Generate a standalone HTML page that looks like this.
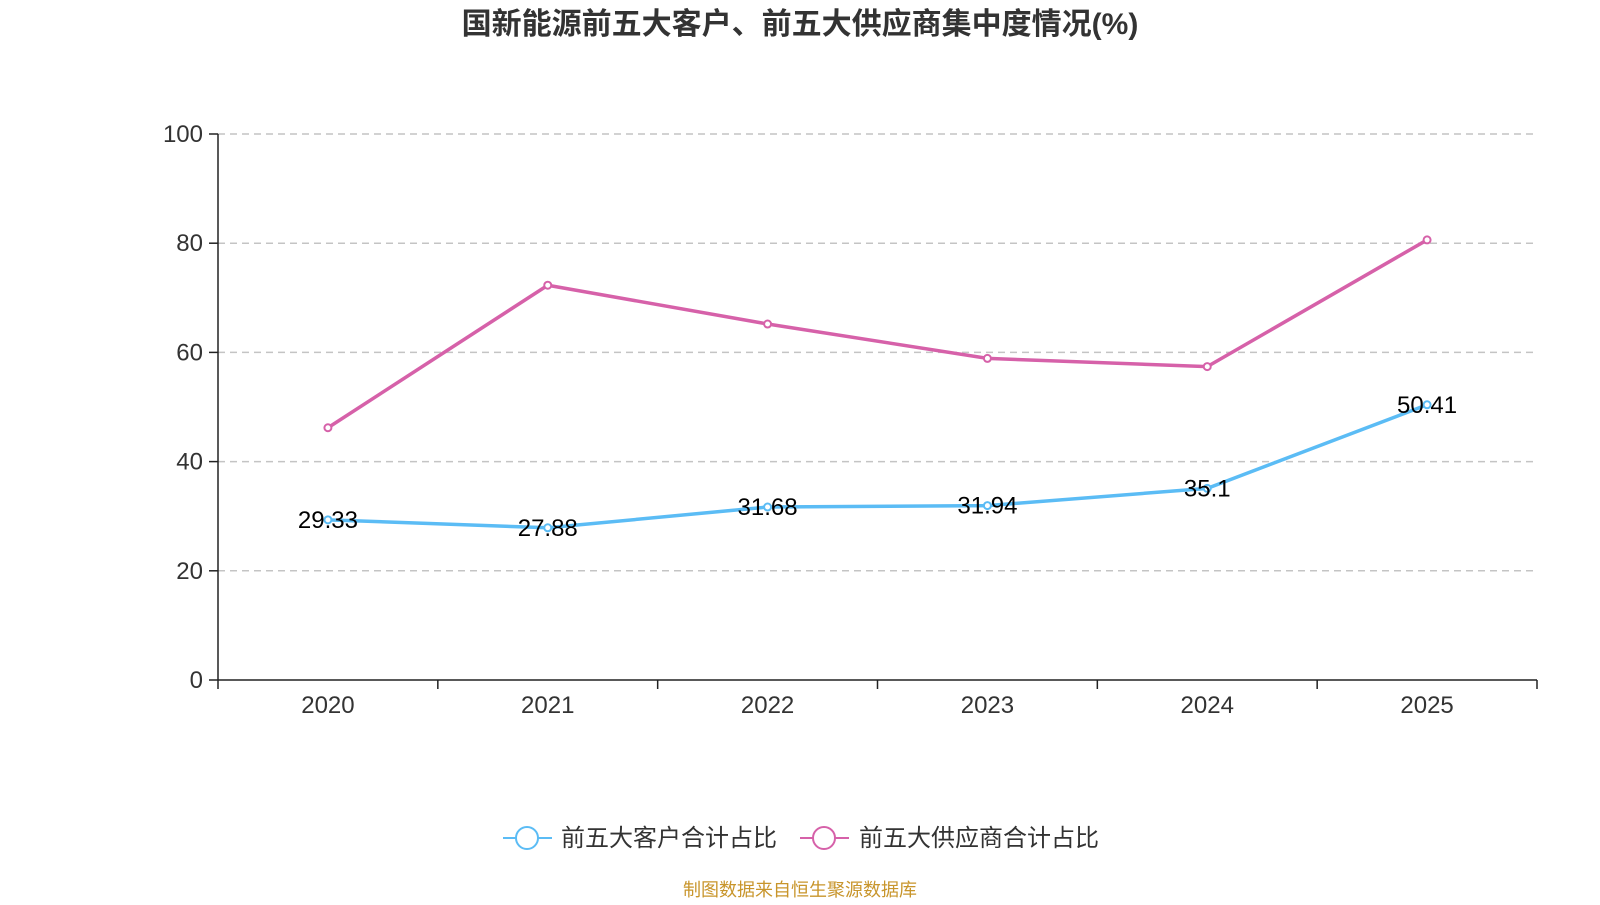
<!DOCTYPE html>
<html><head><meta charset="utf-8"><style>
body{margin:0;background:#fff;width:1600px;height:900px;overflow:hidden;font-family:"Liberation Sans","Noto Sans CJK SC",sans-serif}
</style></head><body>
<svg width="1600" height="900">
<text x="800" y="34" text-anchor="middle" font-size="30" font-weight="bold" fill="#333">国新能源前五大客户、前五大供应商集中度情况(%)</text>
<g id="grid"></g><g id="axes"></g><g id="series"></g>
<g>
<line x1="503" y1="838" x2="552" y2="838" stroke="#5bbcf5" stroke-width="2"/>
<circle cx="527" cy="838" r="11" fill="#fff" stroke="#5bbcf5" stroke-width="2"/>
<text x="561" y="846" font-size="24" fill="#333">前五大客户合计占比</text>
<line x1="800" y1="838" x2="849" y2="838" stroke="#d661a9" stroke-width="2"/>
<circle cx="824" cy="838" r="11" fill="#fff" stroke="#d661a9" stroke-width="2"/>
<text x="859" y="846" font-size="24" fill="#333">前五大供应商合计占比</text>
</g>
<text x="800" y="896" text-anchor="middle" font-size="18" fill="#c8952b">制图数据来自恒生聚源数据库</text>
</svg>
<script>
const years=["2020","2021","2022","2023","2024","2025"];
const customers=[29.33,27.88,31.68,31.94,35.1,50.41];
const suppliers=[46.2,72.3,65.2,58.9,57.4,80.6];
const yTicks=[0,20,40,60,80,100];
const NS="http://www.w3.org/2000/svg";
const X0=218,X1=1537,Y0=680,Y1=134;
const bw=(X1-X0)/years.length;
const xs=i=>X0+bw*(i+0.5);
const ys=v=>Y0-(v/100)*(Y0-Y1);
function mk(t,a,p){const e=document.createElementNS(NS,t);for(const k in a)e.setAttribute(k,a[k]);p.appendChild(e);return e;}
const grid=document.getElementById('grid'),axes=document.getElementById('axes'),ser=document.getElementById('series');
yTicks.forEach(v=>{
 if(v>0){const l=mk('line',{x1:X0,x2:X1,y1:ys(v),y2:ys(v),stroke:'#c4c4c4','stroke-width':1.5,'stroke-dasharray':'7,5'},grid);
 
 }
 mk('line',{x1:X0-9,x2:X0,y1:ys(v),y2:ys(v),stroke:'#222','stroke-width':1.5},axes);
 const t=mk('text',{x:X0-15,y:ys(v)+8,'text-anchor':'end','font-size':24,fill:'#333'},axes);t.textContent=v;
 
 
});
mk('line',{x1:X0,x2:X0,y1:Y1,y2:Y0,stroke:'#222','stroke-width':1.5},axes);
mk('line',{x1:X0,x2:X1,y1:Y0,y2:Y0,stroke:'#222','stroke-width':1.5},axes);
for(let i=0;i<=years.length;i++)mk('line',{x1:X0+bw*i,x2:X0+bw*i,y1:Y0,y2:Y0+9,stroke:'#222','stroke-width':1.5},axes);
years.forEach((y,i)=>{const t=mk('text',{x:xs(i),y:Y0+33,'text-anchor':'middle','font-size':24,fill:'#333'},axes);t.textContent=y;
 
 });
function draw(vals,color,name,labels){
 const p=mk('polyline',{points:vals.map((v,i)=>xs(i)+','+ys(v)).join(' '),fill:'none',stroke:color,'stroke-width':3.5},ser);
 
 
 vals.forEach((v,i)=>{const c=mk('circle',{cx:xs(i),cy:ys(v),r:3.5,fill:'#fff',stroke:color,'stroke-width':2},ser);
  
  
  if(labels){const t=mk('text',{x:xs(i),y:ys(v)+8,'text-anchor':'middle','font-size':24,fill:'#000'},ser);t.textContent=v;
   
   }
 });
}
draw(suppliers,'#d661a9','suppliers',false);
draw(customers,'#5bbcf5','customers',true);
</script>
</body></html>
